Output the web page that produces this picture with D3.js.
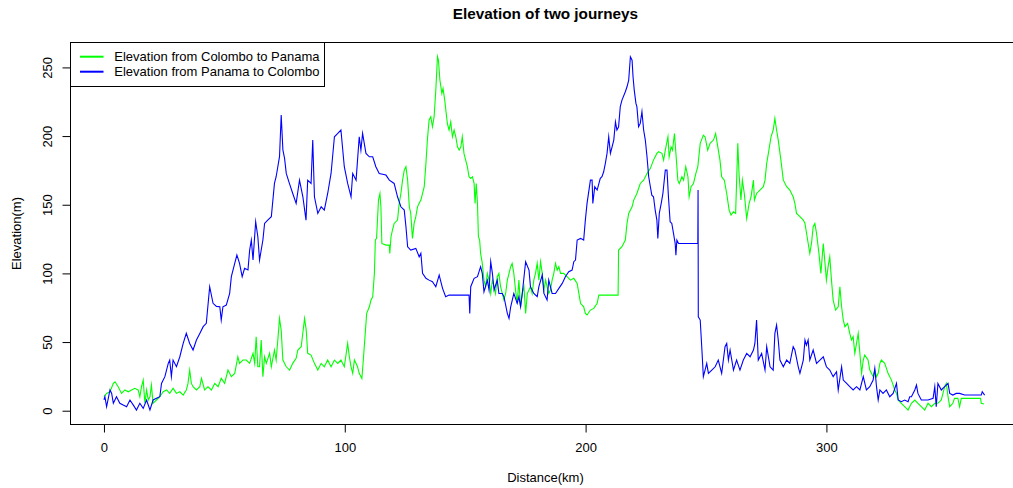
<!DOCTYPE html>
<html>
<head>
<meta charset="utf-8">
<script src="https://cdn.jsdelivr.net/npm/d3@7"></script>
<style>
  body { margin: 0; background: #fff; }
  text { font-family: "Liberation Sans", Arial, Helvetica, sans-serif; fill: #000; }
</style>
</head>
<body>
<svg id="chart" width="1013" height="488"></svg>
<script>
// Elevation profiles: [distance (km), elevation (m)]
const colomboToPanama = [
  [0.0,10.2],[1.1,12.6],[2.5,13.8],[3.9,19.9],[4.6,21.1],[5.9,17.5],[7.3,12.6],[8.7,15.1],[10.1,13.8],[11.5,15.1],
  [12.8,16.3],[14.2,15.1],[14.9,10.2],[15.6,17.5],[16.3,22.3],[17.0,5.4],[17.7,15.1],[18.4,7.8],[19.1,10.2],[19.7,18.7],
  [20.4,5.4],[21.8,7.8],[23.2,10.2],[24.6,13.8],[26.0,15.1],[27.3,12.6],[28.7,16.3],[30.1,12.6],[31.5,13.8],[32.9,11.4],
  [34.2,15.1],[34.9,19.9],[35.6,29.6],[36.3,19.9],[37.0,17.5],[38.4,15.1],[39.8,17.5],[40.5,23.6],[41.8,15.1],[43.2,17.5],
  [44.6,15.1],[46.0,19.9],[47.4,17.5],[48.7,23.6],[50.1,19.9],[51.5,29.6],[52.9,24.8],[54.3,27.2],[55.6,39.3],[56.3,34.5],
  [57.7,36.9],[59.1,36.9],[60.5,34.5],[61.9,41.8],[62.6,34.5],[63.2,53.9],[63.9,32.0],[64.6,32.0],[65.3,51.5],[66.0,24.8],
  [66.7,39.3],[67.4,34.5],[68.8,41.8],[69.5,32.0],[70.8,44.2],[71.5,36.9],[72.2,51.5],[72.9,67.2],[73.6,58.7],[74.3,36.9],
  [75.7,32.0],[77.1,29.6],[78.4,34.5],[79.8,38.1],[80.5,44.2],[81.9,46.6],[83.3,67.2],[84.0,58.7],[84.6,41.8],[86.0,40.5],
  [87.4,34.5],[88.8,29.6],[90.2,34.5],[91.5,32.0],[92.9,36.9],[94.3,32.0],[95.7,36.9],[97.1,34.5],[98.4,36.9],[99.8,32.0],
  [101.2,49.0],[101.9,39.3],[102.6,32.0],[103.3,27.2],[104.0,36.9],[105.3,32.0],[106.0,27.2],[107.1,23.5],[107.7,36.9],[108.5,56.3],
  [109.1,70.9],[110.2,75.7],[110.9,80.6],[111.6,83.0],[112.3,100.0],[112.7,124.3],[113.2,125.5],[114.0,153.4],[114.6,158.2],[115.0,148.5],
  [115.4,121.8],[117.1,120.6],[118.5,120.6],[118.7,114.6],[119.2,126.7],[119.8,131.6],[120.5,136.4],[121.9,138.8],[122.6,151.0],[123.3,158.2],
  [124.0,167.9],[124.7,175.2],[125.4,177.7],[126.1,167.9],[126.8,148.5],[127.4,143.7],[128.1,125.5],[128.8,136.4],[129.5,141.3],[130.2,148.5],
  [130.9,151.0],[131.6,153.4],[132.3,158.2],[133.0,163.1],[133.7,180.1],[134.3,197.1],[135.0,211.6],[135.7,214.1],[136.4,206.8],[137.1,214.1],
  [137.8,233.5],[138.5,257.8],[138.9,255.3],[139.5,240.8],[140.3,231.1],[140.8,234.7],[141.5,226.2],[142.6,209.2],[143.3,204.4],[144.0,210.4],
  [144.7,199.5],[145.4,204.4],[146.1,199.5],[146.8,192.2],[147.5,189.8],[148.2,192.2],[148.8,199.5],[149.5,187.4],[150.2,182.5],[150.9,177.7],
  [151.6,170.4],[152.3,169.2],[153.0,170.4],[153.7,165.5],[154.1,151.0],[154.6,165.5],[155.1,151.0],[155.5,126.7],[156.0,124.3],[156.4,114.6],
  [157.1,107.3],[157.8,95.1],[158.5,90.3],[159.2,100.0],[159.9,95.1],[160.6,85.4],[161.3,95.1],[162.0,90.3],[162.6,85.4],[163.3,97.6],
  [164.0,100.0],[164.7,90.3],[165.4,85.4],[166.1,80.6],[166.8,85.4],[167.5,95.1],[168.2,100.0],[168.9,104.9],[169.5,107.3],[170.2,100.0],
  [170.9,87.9],[171.6,78.2],[172.3,95.1],[173.0,75.7],[173.7,85.4],[174.4,90.3],[175.1,70.9],[175.8,85.4],[176.5,87.9],[177.1,90.3],
  [177.8,85.4],[178.5,95.1],[179.2,100.0],[179.9,107.3],[180.6,95.1],[181.3,108.5],[182.0,100.0],[182.7,87.9],[183.4,95.1],[184.0,90.3],
  [184.7,85.4],[185.4,87.9],[186.1,95.1],[186.8,100.0],[187.5,107.3],[188.2,102.4],[188.9,104.9],[189.6,100.0],[190.9,100.0],[192.3,97.6],
  [193.7,95.1],[195.1,96.4],[196.5,92.7],[197.2,85.4],[197.9,78.2],[199.2,75.7],[199.9,70.9],[200.6,69.7],[202.0,73.3],[203.4,74.5],
  [204.8,78.2],[205.5,84.2],[209.6,84.2],[213.5,84.2],[213.7,117.0],[215.1,119.4],[216.5,124.3],[217.2,136.4],[217.9,143.7],[219.3,148.5],
  [220.0,153.4],[221.3,158.2],[222.7,165.5],[224.1,167.9],[225.5,172.8],[226.9,176.5],[228.2,182.5],[229.6,187.4],[230.3,188.6],[231.7,187.4],
  [232.4,182.5],[233.1,189.8],[234.2,199.5],[234.7,184.9],[235.5,192.2],[236.1,189.8],[236.9,201.9],[237.5,187.4],[238.3,167.9],[238.9,165.5],
  [240.0,170.4],[240.7,167.9],[241.6,177.7],[242.5,170.4],[243.0,155.8],[243.8,163.1],[244.8,165.5],[245.8,172.8],[246.6,177.7],[247.6,194.7],
  [248.9,200.7],[249.6,199.5],[250.7,189.8],[251.7,194.7],[253.1,197.1],[254.0,201.9],[254.9,192.2],[255.8,182.5],[256.5,170.4],[257.6,167.9],
  [258.6,158.2],[259.6,146.1],[260.4,142.5],[261.4,144.9],[262.3,143.7],[263.2,194.7],[263.7,172.8],[264.5,153.4],[265.1,167.9],[265.9,158.2],
  [266.9,140.0],[267.9,151.0],[268.7,155.8],[269.7,167.9],[270.1,153.4],[271.0,158.2],[272.4,160.7],[273.8,163.1],[274.5,167.9],[275.2,180.1],
  [275.9,187.4],[277.0,199.5],[277.9,204.4],[278.6,212.9],[279.3,204.4],[280.0,197.1],[281.1,182.5],[282.1,167.9],[283.5,163.1],[284.8,160.7],
  [286.2,155.8],[286.9,151.0],[287.6,143.7],[289.0,141.3],[290.4,138.8],[291.1,136.4],[292.2,124.3],[293.1,114.6],[293.8,121.8],[294.5,134.0],
  [295.2,136.4],[295.9,129.1],[296.9,114.6],[297.7,100.0],[298.7,121.8],[299.3,109.7],[300.0,95.1],[300.7,104.9],[301.4,112.1],[302.1,95.1],
  [302.8,80.6],[303.8,73.3],[304.9,75.7],[305.6,90.3],[306.3,75.7],[307.0,66.0],[307.7,61.2],[308.8,63.6],[309.7,56.3],[310.4,51.5],
  [311.1,53.9],[311.8,41.7],[312.5,49.0],[313.2,56.3],[313.9,41.7],[314.6,27.2],[315.3,36.9],[315.9,40.5],[317.3,36.9],[318.0,29.6],
  [318.7,27.2],[319.4,24.8],[320.1,29.6],[320.8,24.8],[321.5,27.2],[322.2,34.5],[322.8,36.9],[324.2,34.5],[325.6,27.2],[327.0,22.3],
  [328.4,15.1],[329.1,12.6],[329.8,7.8],[331.1,5.4],[332.5,2.9],[333.9,0.5],[335.3,5.4],[336.7,7.8],[338.0,5.4],[339.4,2.9],
  [340.8,0.5],[342.2,5.4],[343.6,2.9],[345.0,5.4],[346.3,5.4],[347.7,7.8],[348.4,12.6],[349.1,17.5],[349.8,19.9],[350.5,10.2],
  [351.2,2.9],[352.5,5.4],[353.2,9.0],[354.6,9.0],[355.3,2.9],[356.0,9.0],[360.1,9.0],[364.0,9.0],[364.3,5.4],[365.4,4.9]
];

const panamaToColombo = [
  [0.0,8.0],[0.4,10.2],[1.1,2.9],[2.5,15.1],[3.2,12.6],[3.9,5.4],[5.2,10.2],[6.6,5.4],[8.0,4.1],[9.4,2.9],
  [10.8,7.8],[12.2,4.1],[13.5,0.5],[14.9,5.4],[16.3,1.7],[17.7,7.8],[19.1,0.5],[20.4,7.8],[21.8,9.0],[23.2,10.2],
  [23.9,19.9],[25.3,24.8],[26.7,34.5],[27.3,36.9],[28.0,24.8],[28.7,36.9],[30.1,32.1],[31.5,39.3],[32.9,49.0],[34.2,56.3],
  [35.6,49.0],[37.0,44.2],[38.4,51.5],[39.8,56.3],[41.2,61.2],[42.5,63.6],[43.9,90.3],[45.3,78.2],[46.7,76.0],[48.1,75.7],
  [48.7,66.0],[49.4,75.7],[50.8,76.9],[52.2,85.5],[52.9,97.6],[54.3,107.3],[55.2,113.4],[56.3,107.3],[57.4,97.6],[58.4,103.7],
  [59.8,102.5],[60.5,117.0],[61.2,124.3],[61.9,109.7],[63.0,137.6],[63.9,126.7],[64.6,109.7],[66.0,124.3],[66.7,136.4],[68.1,138.9],
  [69.5,141.3],[70.8,165.5],[71.5,170.4],[72.9,185.0],[73.6,215.3],[74.3,190.0],[75.0,183.8],[75.7,172.8],[77.0,165.5],[78.4,158.2],
  [79.8,151.0],[81.2,167.9],[82.6,155.8],[83.9,138.8],[84.6,167.9],[86.0,165.5],[86.7,197.1],[87.4,155.8],[88.8,143.7],[90.2,148.5],
  [91.5,146.1],[92.9,158.2],[94.3,172.8],[95.7,199.5],[97.1,201.9],[98.4,204.4],[99.8,177.7],[101.2,165.5],[102.6,155.8],[103.3,172.8],
  [104.7,167.9],[106.0,199.5],[106.7,189.8],[107.4,201.9],[108.8,187.4],[110.2,184.9],[111.6,184.9],[112.9,177.7],[114.3,172.8],[117.1,171.6],
  [118.5,167.9],[120.5,165.5],[121.9,155.8],[123.3,148.5],[124.7,146.1],[125.4,134.0],[126.1,119.4],[127.4,117.0],[129.5,118.2],[130.9,112.1],
  [131.6,114.6],[132.3,100.0],[133.7,96.4],[135.0,95.1],[136.4,93.9],[137.8,90.3],[139.2,98.8],[140.6,89.1],[141.9,83.0],[143.3,84.2],
  [147.5,84.2],[151.6,84.2],[151.9,70.9],[152.3,90.3],[153.7,96.4],[155.1,97.6],[156.4,104.9],[157.1,100.0],[157.8,86.6],[159.2,95.1],
  [159.9,87.9],[160.6,108.5],[161.3,100.0],[162.0,87.9],[163.3,95.1],[164.0,85.4],[165.4,85.4],[166.1,83.0],[167.5,70.9],[168.2,67.2],
  [168.9,75.7],[170.2,85.4],[171.6,78.2],[172.3,83.0],[173.0,75.7],[173.7,85.4],[175.1,108.5],[176.5,102.4],[177.1,90.3],[178.5,85.4],
  [179.9,83.0],[180.6,90.3],[182.0,98.8],[182.7,85.4],[184.0,80.6],[184.7,95.1],[186.1,85.4],[187.5,85.4],[188.9,89.1],[190.3,92.7],
  [191.6,97.6],[193.0,101.2],[194.4,102.4],[195.1,108.5],[195.8,109.7],[196.5,124.3],[197.9,125.5],[199.2,124.3],[199.9,138.8],[200.6,151.0],
  [202.0,167.9],[202.7,167.9],[203.0,151.0],[203.8,163.1],[204.8,160.7],[206.1,169.2],[206.8,170.4],[207.5,174.0],[208.2,180.1],[208.9,187.4],
  [209.6,199.5],[210.3,187.4],[211.0,192.2],[211.7,197.1],[212.4,210.4],[213.0,204.4],[213.7,206.8],[214.4,221.4],[215.1,226.2],[216.5,232.3],
  [217.2,235.9],[217.9,240.8],[218.6,257.8],[219.3,255.3],[219.7,243.2],[220.2,233.5],[220.9,223.8],[221.3,221.4],[222.0,206.8],[222.7,209.2],
  [223.4,217.7],[224.1,204.4],[224.8,197.1],[225.5,184.9],[226.2,170.4],[226.9,163.1],[227.5,157.0],[228.2,155.8],[228.9,146.1],[229.6,138.8],
  [230.0,125.5],[230.6,143.7],[231.4,151.0],[232.1,158.2],[233.1,175.2],[233.8,175.2],[234.4,155.8],[235.1,137.6],[235.8,136.4],[236.5,129.1],
  [237.2,121.8],[237.5,113.3],[237.9,124.3],[238.6,121.8],[246.6,121.8],[246.7,160.7],[246.8,68.4],[247.6,66.0],[248.3,44.2],[248.9,24.8],
  [249.6,29.6],[250.3,34.5],[251.0,27.2],[252.4,29.6],[253.8,32.0],[255.1,36.9],[256.5,27.2],[257.9,46.6],[258.6,49.0],[259.3,36.9],
  [260.0,44.2],[261.4,29.6],[262.7,36.9],[264.1,29.6],[265.5,36.9],[266.9,41.7],[268.3,39.3],[269.7,44.2],[270.3,49.0],[271.0,66.0],
  [271.7,36.9],[273.1,41.7],[274.5,29.6],[275.2,46.6],[276.6,32.0],[277.9,29.6],[278.6,56.3],[279.3,62.4],[280.0,51.5],[280.7,36.9],
  [282.1,32.0],[283.5,36.9],[284.8,34.5],[286.2,46.6],[286.9,44.2],[288.3,32.0],[289.0,27.2],[290.4,36.9],[291.1,51.5],[291.7,47.8],
  [292.4,51.5],[293.1,36.9],[294.5,44.2],[295.9,34.5],[297.3,36.9],[298.7,39.3],[300.0,32.0],[301.4,29.6],[302.8,24.8],[304.2,28.4],
  [304.9,15.1],[306.3,32.0],[307.0,22.3],[308.4,19.9],[309.7,17.5],[311.1,15.1],[312.5,17.5],[313.9,15.1],[315.3,24.8],[316.6,15.1],
  [318.0,17.5],[319.4,22.3],[320.1,30.8],[320.8,17.5],[321.5,7.8],[322.2,15.1],[323.5,12.6],[324.9,15.1],[326.3,10.2],[327.7,12.6],
  [329.1,19.9],[329.8,7.8],[331.1,6.6],[332.5,7.8],[333.9,6.6],[334.6,10.2],[335.3,10.2],[336.7,15.1],[337.4,18.7],[338.0,12.6],
  [339.4,7.8],[342.2,7.8],[344.3,9.0],[345.0,17.5],[345.6,2.9],[346.3,19.9],[347.7,15.1],[349.1,17.5],[350.5,19.9],[351.2,12.6],
  [352.5,11.4],[353.9,12.6],[355.3,12.6],[357.4,11.4],[360.1,11.4],[364.3,11.4],[364.7,13.8],[365.7,11.4]
];

const seriesNames = ["Elevation from Colombo to Panama", "Elevation from Panama to Colombo"];
const seriesColors = ["#00ff00", "#0000ff"];
const xTicks = [0, 100, 200, 300];
const yTicks = [0, 50, 100, 150, 200, 250];
const chartTitle = "Elevation of two journeys";
const xTitle = "Distance(km)";
const yTitle = "Elevation(m)";

// Layout
const svg = d3.select("#chart");
const plot = { left: 70, top: 42.5, right: 1021, bottom: 424.5 };

// Axis ranges padded around the data, base-graphics style
const x = d3.scaleLinear().domain([-14.1, 380.8]).range([plot.left, plot.right]);
const y = d3.scaleLinear().domain([-10.4, 268]).range([plot.bottom + 0.5, plot.top + 0.2]);

svg.append("rect").attr("width", 1013).attr("height", 488).attr("fill", "#fff");

const clipId = "plot-clip";
svg.append("clipPath").attr("id", clipId)
  .append("rect")
  .attr("x", plot.left).attr("y", plot.top)
  .attr("width", plot.right - plot.left).attr("height", plot.bottom - plot.top);

const line = d3.line().x(d => x(d[0])).y(d => y(d[1]));

const lines = svg.append("g").attr("clip-path", `url(#${clipId})`);
[colomboToPanama, panamaToColombo].forEach((series, i) => {
  lines.append("path")
    .datum(series)
    .attr("d", line)
    .attr("fill", "none")
    .attr("stroke", seriesColors[i])
    .attr("stroke-width", 1.1)
    .attr("stroke-linejoin", "miter")
    .attr("stroke-miterlimit", 10);
});

// Plot frame
svg.append("rect")
  .attr("x", plot.left + 0.5).attr("y", plot.top)
  .attr("width", plot.right - plot.left).attr("height", plot.bottom - plot.top)
  .attr("fill", "none").attr("stroke", "#000").attr("stroke-width", 1);

// X axis
const xAxis = svg.append("g")
  .attr("transform", `translate(0,${plot.bottom})`)
  .call(d3.axisBottom(x).tickValues(xTicks).tickSize(8).tickPadding(10.5).tickFormat(d3.format("d")));
xAxis.select(".domain").remove();
xAxis.selectAll("line").attr("stroke", "#000");
xAxis.selectAll("text").attr("font-size", 13).attr("font-family", "Liberation Sans, Arial, sans-serif").attr("fill", "#000");

// Y axis, labels parallel to the axis
const yAxis = svg.append("g")
  .attr("transform", `translate(${plot.left + 0.5},0)`)
  .call(d3.axisLeft(y).tickValues(yTicks).tickSize(8).tickFormat(d3.format("d")));
yAxis.select(".domain").remove();
yAxis.selectAll("line").attr("stroke", "#000");
yAxis.selectAll("text")
  .attr("x", null).attr("dy", null)
  .attr("text-anchor", "middle")
  .attr("transform", "translate(-18.6,0) rotate(-90)")
  .attr("font-size", 13).attr("font-family", "Liberation Sans, Arial, sans-serif").attr("fill", "#000");

// Titles
svg.append("text")
  .attr("x", (plot.left + plot.right) / 2).attr("y", 18.5)
  .attr("text-anchor", "middle")
  .attr("font-size", 15.3).attr("font-weight", "bold")
  .text(chartTitle);

svg.append("text")
  .attr("x", (plot.left + plot.right) / 2).attr("y", 482.3)
  .attr("text-anchor", "middle")
  .attr("font-size", 13)
  .text(xTitle);

svg.append("text")
  .attr("transform", `translate(21,${(plot.top + plot.bottom) / 2}) rotate(-90)`)
  .attr("text-anchor", "middle")
  .attr("font-size", 13)
  .text(yTitle);

// Legend
const legend = svg.append("g");
legend.append("rect")
  .attr("x", plot.left + 0.5).attr("y", plot.top)
  .attr("width", 254).attr("height", 44)
  .attr("fill", "#fff").attr("stroke", "#000").attr("stroke-width", 1);
seriesNames.forEach((name, i) => {
  const cy = 56.7 + i * 15;
  legend.append("line")
    .attr("x1", 80).attr("x2", 103.5)
    .attr("y1", cy).attr("y2", cy)
    .attr("stroke", seriesColors[i]).attr("stroke-width", 2);
  legend.append("text")
    .attr("x", 114.3).attr("y", cy + 4.6)
    .attr("font-size", 13)
    .text(name);
});
</script>
</body>
</html>
